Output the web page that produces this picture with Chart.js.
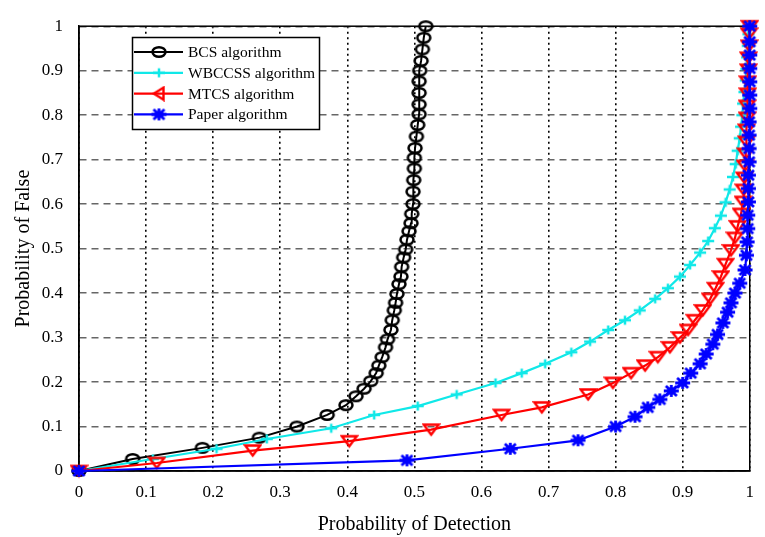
<!DOCTYPE html>
<html lang="en">
<head>
  <meta charset="utf-8">
  <title>Probability of Detection vs Probability of False</title>
  <script src="https://cdn.jsdelivr.net/npm/chart.js@4.4.0/dist/chart.umd.min.js"></script>
  <style>
    html, body { margin: 0; padding: 0; background: #fff; }
    #wrap { width: 765px; height: 537px; position: relative; }
  </style>
</head>
<body>
<div id="wrap"><canvas id="roc"></canvas></div>
<script>
// values (x = Pd, y = Pf)
const bcsX = [0, 0.08, 0.184, 0.269, 0.325, 0.37, 0.398, 0.413, 0.425, 0.435, 0.443, 0.447, 0.452, 0.457, 0.46, 0.465, 0.467, 0.47, 0.472, 0.474, 0.477, 0.48, 0.481, 0.484, 0.487, 0.489, 0.492, 0.495, 0.496, 0.498, 0.498, 0.499, 0.5, 0.5, 0.501, 0.503, 0.505, 0.507, 0.507, 0.507, 0.507, 0.508, 0.51, 0.512, 0.514, 0.517];
const bcsY = [0, 0.027, 0.052, 0.075, 0.1, 0.126, 0.148, 0.168, 0.185, 0.202, 0.22, 0.237, 0.256, 0.278, 0.296, 0.317, 0.339, 0.361, 0.378, 0.398, 0.42, 0.437, 0.459, 0.48, 0.498, 0.52, 0.539, 0.557, 0.578, 0.6, 0.628, 0.654, 0.68, 0.704, 0.726, 0.752, 0.778, 0.802, 0.824, 0.85, 0.876, 0.9, 0.922, 0.948, 0.974, 1.0];

const wbX = [0, 0.11, 0.205, 0.28, 0.376, 0.44, 0.505, 0.563, 0.621, 0.66, 0.695, 0.734, 0.762, 0.789, 0.814, 0.836, 0.859, 0.878, 0.896, 0.911, 0.926, 0.938, 0.948, 0.957, 0.964, 0.97, 0.975, 0.979, 0.982, 0.985, 0.987, 0.989, 0.99, 0.992, 0.994, 0.995, 0.996, 0.997, 0.998, 1];
const wbY = [0, 0.027, 0.05, 0.072, 0.096, 0.126, 0.146, 0.172, 0.198, 0.22, 0.241, 0.267, 0.291, 0.317, 0.339, 0.361, 0.387, 0.411, 0.437, 0.463, 0.491, 0.517, 0.546, 0.574, 0.604, 0.633, 0.661, 0.69, 0.72, 0.748, 0.774, 0.8, 0.826, 0.852, 0.878, 0.904, 0.93, 0.956, 0.982, 1];

const mtX = [0, 0.116, 0.259, 0.403, 0.525, 0.63, 0.69, 0.759, 0.796, 0.823, 0.844, 0.863, 0.881, 0.896, 0.908, 0.918, 0.93, 0.941, 0.949, 0.957, 0.964, 0.972, 0.978, 0.982, 0.987, 0.99, 0.991, 0.992, 0.993, 0.994, 0.995, 0.995, 0.996, 0.996, 0.997, 0.997, 0.998, 0.998, 0.999, 0.999, 1];
const mtY = [0, 0.018, 0.046, 0.067, 0.093, 0.126, 0.143, 0.172, 0.198, 0.22, 0.237, 0.256, 0.278, 0.3, 0.317, 0.339, 0.361, 0.387, 0.411, 0.437, 0.465, 0.496, 0.524, 0.55, 0.578, 0.605, 0.632, 0.659, 0.686, 0.713, 0.74, 0.767, 0.794, 0.821, 0.848, 0.875, 0.902, 0.929, 0.956, 0.983, 1];

const ppX = [0, 0.489, 0.643, 0.744, 0.8, 0.829, 0.848, 0.866, 0.883, 0.9, 0.912, 0.926, 0.935, 0.945, 0.952, 0.96, 0.967, 0.972, 0.978, 0.985, 0.993, 0.995, 0.996, 0.997, 0.997, 0.998, 0.998, 0.998, 0.999, 0.999, 0.999, 0.999, 1, 1, 1, 1, 1, 1, 1];
const ppY = [0, 0.024, 0.05, 0.069, 0.1, 0.122, 0.143, 0.161, 0.18, 0.198, 0.22, 0.241, 0.263, 0.285, 0.307, 0.333, 0.357, 0.378, 0.4, 0.422, 0.452, 0.485, 0.515, 0.545, 0.575, 0.605, 0.635, 0.665, 0.695, 0.725, 0.755, 0.785, 0.815, 0.845, 0.875, 0.905, 0.935, 0.965, 1.0];

const seriesNames = ['BCS algorithm', 'WBCCSS algorithm', 'MTCS algorithm', 'Paper algorithm'];
const tickValues = [0, 0.1, 0.2, 0.3, 0.4, 0.5, 0.6, 0.7, 0.8, 0.9, 1];
const xTickLabels = ['0', '0.1', '0.2', '0.3', '0.4', '0.5', '0.6', '0.7', '0.8', '0.9', '1'];
const yTickLabels = ['0', '0.1', '0.2', '0.3', '0.4', '0.5', '0.6', '0.7', '0.8', '0.9', '1'];

const serif = "'Liberation Serif', 'Times New Roman', serif";

function pts(xs, ys) {
  return xs.map(function (x, i) { return {x: x, y: ys[i]}; });
}

// little canvases used as marker images (matlab-like markers)
function marker(w, h, draw) {
  const c = document.createElement('canvas');
  c.width = w; c.height = h;
  const g = c.getContext('2d');
  draw(g);
  return c;
}
const circleMk = marker(18, 14, function (g) {
  g.strokeStyle = '#000'; g.lineWidth = 2.5;
  g.beginPath(); g.ellipse(9, 7, 6.5, 4.8, 0, 0, Math.PI * 2); g.stroke();
});
const plusMk = marker(16, 12, function (g) {
  g.strokeStyle = '#10e8e8'; g.lineWidth = 2.5;
  g.beginPath(); g.moveTo(2, 6); g.lineTo(14, 6); g.moveTo(8, 1.5); g.lineTo(8, 10.5); g.stroke();
});
const triDownMk = marker(19, 15, function (g) {
  g.strokeStyle = '#ff0000'; g.lineWidth = 2.4; g.lineJoin = 'miter';
  g.beginPath(); g.moveTo(2, 2.5); g.lineTo(17, 2.5); g.lineTo(9.5, 12.5); g.closePath(); g.stroke();
});
const triLeftMk = marker(14, 16, function (g) {
  g.strokeStyle = '#ff0000'; g.lineWidth = 2.4;
  g.beginPath(); g.moveTo(11.5, 2); g.lineTo(11.5, 14); g.lineTo(2, 8); g.closePath(); g.stroke();
});
const starMk = marker(17, 14, function (g) {
  g.strokeStyle = '#0000ff'; g.fillStyle = '#0000ff'; g.lineWidth = 2.8;
  g.beginPath();
  g.moveTo(1, 7); g.lineTo(16, 7);
  g.moveTo(8.5, 1); g.lineTo(8.5, 13);
  g.moveTo(3, 2); g.lineTo(14, 12);
  g.moveTo(14, 2); g.lineTo(3, 12);
  g.stroke();
  g.beginPath(); g.ellipse(8.5, 7, 4.5, 3.5, 0, 0, Math.PI * 2); g.fill();
});

// plot frame drawn under the curves
const frame = {
  id: 'frame',
  beforeDatasetsDraw(chart) {
    const a = chart.chartArea, ctx = chart.ctx;
    ctx.save();
    ctx.strokeStyle = '#000';
    ctx.lineWidth = 1.5;
    ctx.strokeRect(a.left, a.top, a.right - a.left, a.bottom - a.top);
    ctx.restore();
  }
};

// boxed legend inside the plot, top left
const boxLegend = {
  id: 'boxLegend',
  afterDraw(chart) {
    const ctx = chart.ctx;
    ctx.save();
    ctx.fillStyle = '#fff';
    ctx.fillRect(132, 37, 188, 93);
    ctx.strokeStyle = '#000';
    ctx.lineWidth = 1.5;
    ctx.strokeRect(132.5, 37.5, 187, 92);
    chart.data.datasets.forEach(function (ds, i) {
      const y = 52 + i * 20.8;
      ctx.strokeStyle = ds.borderColor;
      ctx.lineWidth = 2.2;
      ctx.beginPath(); ctx.moveTo(134, y); ctx.lineTo(183, y); ctx.stroke();
      const img = ds.legendMarker || ds.pointStyle;
      ctx.drawImage(img, 159 - img.width / 2, y - img.height / 2);
      ctx.fillStyle = '#000';
      ctx.font = '15.5px ' + serif;
      ctx.textBaseline = 'middle';
      ctx.fillText(ds.label, 188, y + 1);
    });
    ctx.restore();
  }
};

new Chart(document.getElementById('roc'), {
  type: 'line',
  data: {
    datasets: [
      { label: seriesNames[0], data: pts(bcsX, bcsY), borderColor: '#000', borderWidth: 2,
        pointStyle: circleMk, order: 3 },
      { label: seriesNames[1], data: pts(wbX, wbY), borderColor: '#10e8e8', borderWidth: 2.2,
        pointStyle: plusMk, order: 2 },
      { label: seriesNames[2], data: pts(mtX, mtY), borderColor: '#ff0000', borderWidth: 2.2,
        pointStyle: triDownMk, legendMarker: triLeftMk, order: 1 },
      { label: seriesNames[3], data: pts(ppX, ppY), borderColor: '#0000ff', borderWidth: 2.2,
        pointStyle: starMk, order: 0 }
    ]
  },
  options: {
    responsive: true,
    maintainAspectRatio: false,
    animation: false,
    devicePixelRatio: 1,
    layout: { padding: { left: 0, right: 13, top: 11, bottom: 0 } },
    datasets: {
      line: { clip: false, fill: false, tension: 0, pointRadius: 5, pointHoverRadius: 5 }
    },
    plugins: {
      legend: { display: false },
      tooltip: { enabled: false }
    },
    scales: {
      x: {
        type: 'linear', min: 0, max: 1,
        afterBuildTicks: function (s) { s.ticks = tickValues.map(function (v) { return {value: v}; }); },
        afterFit: function (s) { s.height = 66; },
        ticks: {
          autoSkip: false, maxRotation: 0, padding: 11, color: '#000',
          font: { family: serif, size: 17 },
          callback: function (v, i) { return xTickLabels[i]; }
        },
        grid: { color: '#000', lineWidth: 1.6, drawTicks: false },
        border: { display: true, color: '#000', width: 1.5, dash: [2, 3.5] },
        title: {
          display: true, text: 'Probability of Detection', color: '#000',
          font: { family: serif, size: 20 }, padding: { top: 0, bottom: 0 }
        }
      },
      y: {
        type: 'linear', min: 0, max: 1,
        afterBuildTicks: function (s) { s.ticks = tickValues.map(function (v) { return {value: v}; }); },
        afterFit: function (s) { s.width = 79; },
        ticks: {
          padding: 16, color: '#000',
          font: { family: serif, size: 17 },
          callback: function (v, i) { return yTickLabels[i]; }
        },
        grid: { color: '#666', lineWidth: 1.4, drawTicks: false },
        border: { display: true, color: '#000', width: 1.5, dash: [7, 5] },
        title: {
          display: true, text: 'Probability of False', color: '#000',
          font: { family: serif, size: 20 }, padding: { top: 12, bottom: 0 }
        }
      }
    }
  },
  plugins: [frame, boxLegend]
});
</script>
</body>
</html>
